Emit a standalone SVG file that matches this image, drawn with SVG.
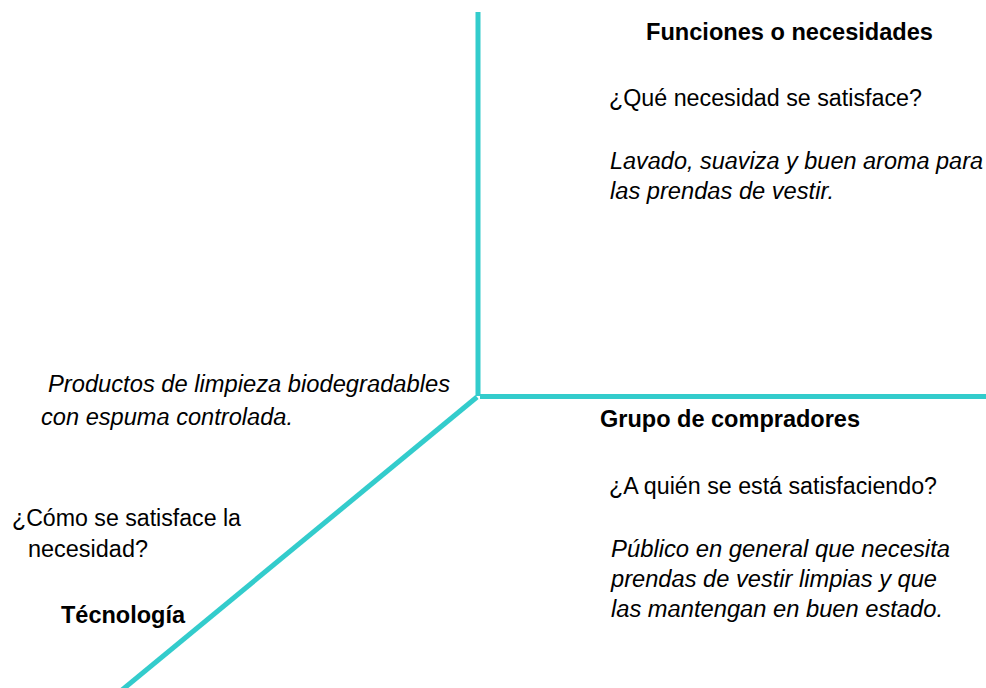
<svg xmlns="http://www.w3.org/2000/svg" width="986" height="688" viewBox="0 0 986 688">
<style>
text{font-family:"Liberation Sans",Arial,sans-serif;font-size:23.5px;fill:#000}
.b{font-weight:bold}
.i{font-style:italic}
.ax{stroke:#33CCCC;stroke-width:5;fill:none}
</style>
<rect width="986" height="688" fill="#fff"/>
<g id="connectors">
<line class="ax" x1="478" y1="12" x2="478" y2="396"/>
<line class="ax" x1="480" y1="396.5" x2="986" y2="396.5"/>
<line class="ax" x1="477" y1="397" x2="122" y2="690"/>
</g>
<g id="funciones">
<text class="b" x="646" y="40" textLength="287" lengthAdjust="spacingAndGlyphs">Funciones o necesidades</text>
<text x="609" y="106" textLength="313" lengthAdjust="spacingAndGlyphs">¿Qué necesidad se satisface?</text>
<text class="i" x="610" y="169" textLength="373" lengthAdjust="spacingAndGlyphs">Lavado, suaviza y buen aroma para</text>
<text class="i" x="610" y="199" textLength="224" lengthAdjust="spacingAndGlyphs">las prendas de vestir.</text>
</g>
<g id="grupo">
<text class="b" x="600" y="427" textLength="260" lengthAdjust="spacingAndGlyphs">Grupo de compradores</text>
<text x="609" y="494" textLength="328" lengthAdjust="spacingAndGlyphs">¿A quién se está satisfaciendo?</text>
<text class="i" x="611" y="557" textLength="339" lengthAdjust="spacingAndGlyphs">Público en general que necesita</text>
<text class="i" x="611" y="587" textLength="326" lengthAdjust="spacingAndGlyphs">prendas de vestir limpias y que</text>
<text class="i" x="611" y="617" textLength="332" lengthAdjust="spacingAndGlyphs">las mantengan en buen estado.</text>
</g>
<g id="tecnologia">
<text class="i" x="48" y="392" textLength="402" lengthAdjust="spacingAndGlyphs">Productos de limpieza biodegradables</text>
<text class="i" x="41" y="425" textLength="252" lengthAdjust="spacingAndGlyphs">con espuma controlada.</text>
<text x="12" y="526" textLength="229" lengthAdjust="spacingAndGlyphs">¿Cómo se satisface la</text>
<text x="28" y="557" textLength="120" lengthAdjust="spacingAndGlyphs">necesidad?</text>
<text class="b" x="61" y="623" textLength="124" lengthAdjust="spacingAndGlyphs">Técnología</text>
</g>
</svg>
